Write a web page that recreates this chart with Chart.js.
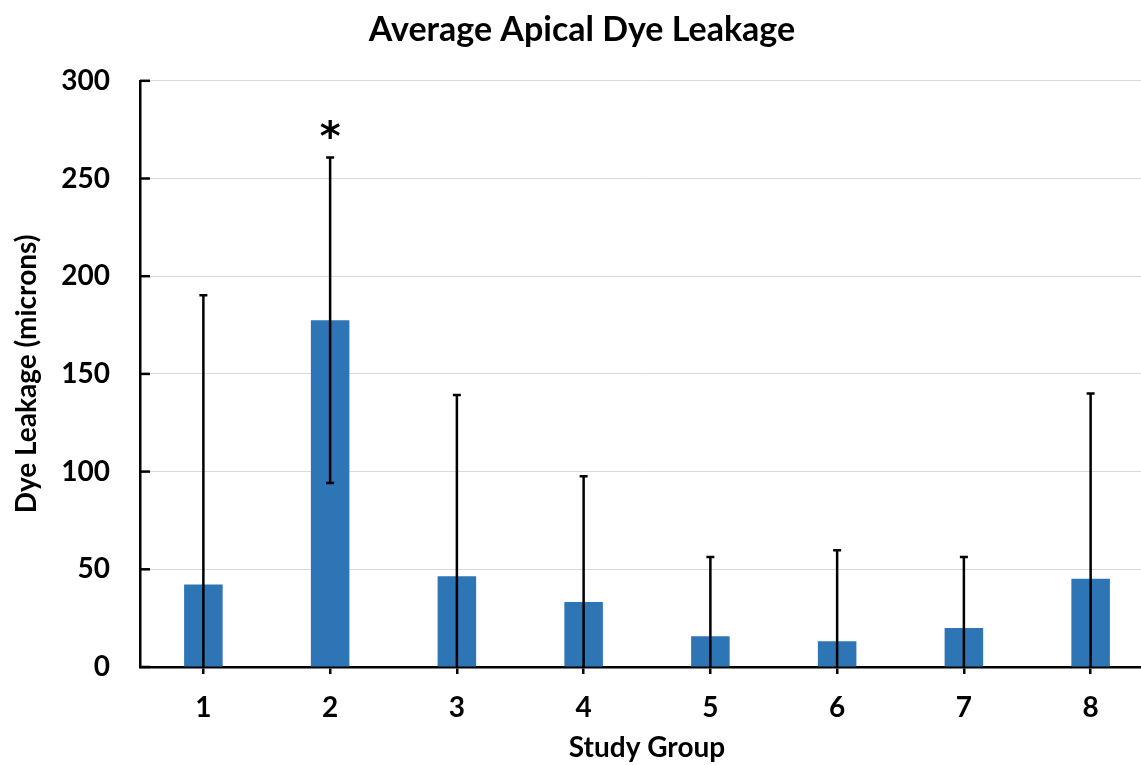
<!DOCTYPE html>
<html><head><meta charset="utf-8">
<script src="https://cdn.jsdelivr.net/npm/chart.js@4.4.0/dist/chart.umd.min.js"></script>
<style>html,body{margin:0;padding:0;background:#fff;overflow:hidden;} #wrap{width:1156px;height:765px;}</style>
</head><body><div id="wrap"><canvas id="c" width="1156" height="765"></canvas></div>
<script>
const groups = ['1', '2', '3', '4', '5', '6', '7', '8'];
const meanLeakage = [42.2, 177.5, 46.4, 33.3, 15.7, 13.2, 20.0, 45.1];
const sdLeakage = [148.1, 83.3, 92.8, 64.3, 40.6, 46.6, 36.3, 94.9];
const significance = ['', '*', '', '', '', '', '', ''];
const yMin = 0, yMax = 300, yStep = 50;

const FONT = 'Lato';

const errorBarPlugin = {
  id: 'errorBars',
  afterDatasetsDraw(chart) {
    const ctx = chart.ctx;
    const xs = chart.scales.x, ys = chart.scales.y;
    const area = chart.chartArea;
    ctx.save();
    // inner y ticks
    ctx.strokeStyle = '#000';
    ctx.lineWidth = 2.5;
    ys.ticks.forEach(t => {
      const y = ys.getPixelForValue(t.value);
      ctx.beginPath();
      ctx.moveTo(area.left, y);
      ctx.lineTo(area.left + 10, y);
      ctx.stroke();
    });
    // error bars
    ctx.beginPath();
    ctx.rect(area.left, area.top - 40, area.right - area.left, area.bottom - area.top + 40);
    ctx.clip();
    meanLeakage.forEach((m, i) => {
      const x = xs.getPixelForValue(i);
      const hi = m + sdLeakage[i];
      const lo = m - sdLeakage[i];
      const yHi = ys.getPixelForValue(hi);
      const yLo = ys.getPixelForValue(Math.max(lo, yMin));
      ctx.lineWidth = 2.5;
      ctx.strokeStyle = '#000';
      ctx.beginPath();
      ctx.moveTo(x, yHi);
      ctx.lineTo(x, yLo);
      ctx.stroke();
      ctx.beginPath();
      ctx.moveTo(x - 4, yHi);
      ctx.lineTo(x + 4, yHi);
      if (lo > yMin) {
        ctx.moveTo(x - 4, yLo);
        ctx.lineTo(x + 4, yLo);
      }
      ctx.stroke();
      if (significance[i]) {
        ctx.fillStyle = '#000';
        ctx.font = 'bold 40px "DejaVu Sans"';
        ctx.textAlign = 'center';
        ctx.textBaseline = 'alphabetic';
        ctx.fillText(significance[i], x, yHi - 7);
      }
    });
    ctx.restore();
  }
};

new Chart(document.getElementById('c'), {
  type: 'bar',
  data: {
    labels: groups,
    datasets: [{
      data: meanLeakage,
      backgroundColor: '#2E75B6',
      borderWidth: 0,
      barPercentage: 0.304,
      categoryPercentage: 1.0
    }]
  },
  options: {
    responsive: false,
    animation: false,
    devicePixelRatio: 1,
    layout: { padding: { top: 0, left: 10, right: 2, bottom: 0 } },
    plugins: {
      legend: { display: false },
      tooltip: { enabled: false },
      title: {
        display: true,
        text: 'Average Apical Dye Leakage',
        color: '#000',
        font: { family: FONT, size: 34, weight: 'bold' },
        padding: { top: 10, bottom: 30 }
      }
    },
    scales: {
      x: {
        offset: true,
        afterFit(scale) { scale.height = 98; },
        grid: { drawOnChartArea: false, drawTicks: true, tickLength: 7, color: '#000', lineWidth: 2.5, offset: false },
        border: { display: true, color: '#000', width: 2.5 },
        ticks: { color: '#000', font: { family: FONT, size: 28, weight: 'bold' }, padding: 17 },
        title: { display: true, text: 'Study Group', color: '#000', font: { family: FONT, size: 28, weight: 'bold' }, padding: { top: 0, bottom: 0 } }
      },
      y: {
        min: yMin, max: yMax,
        afterFit(scale) { scale.width = 130; },
        grid: { color: '#d9d9d9', lineWidth: 1, drawTicks: false },
        border: { display: true, color: '#000', width: 2.5 },
        ticks: { stepSize: yStep, color: '#000', font: { family: FONT, size: 28, weight: 'bold' }, padding: 30 },
        title: { display: true, text: 'Dye Leakage (microns)', color: '#000', font: { family: FONT, size: 28, weight: 'bold' }, padding: { top: 0, bottom: 0 } }
      }
    }
  },
  plugins: [errorBarPlugin]
});
</script>
</body></html>
